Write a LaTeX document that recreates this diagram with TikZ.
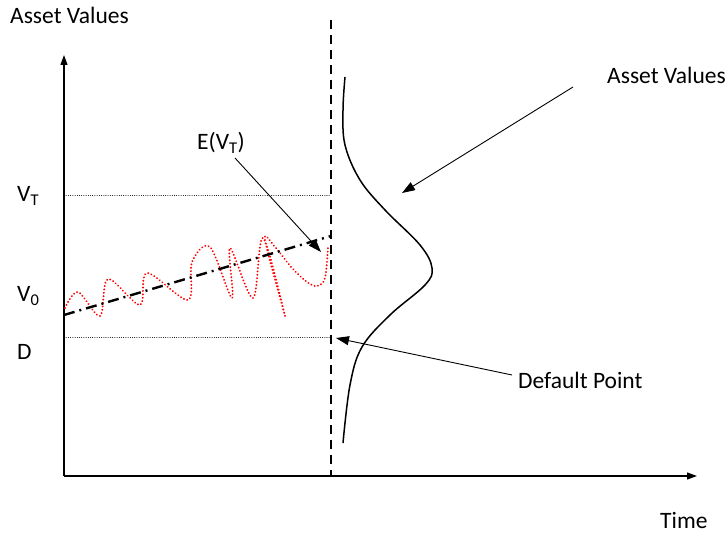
\documentclass[tikz,border=0pt]{standalone}
\usepackage{fontspec}
\setmainfont{Carlito}
\usetikzlibrary{arrows.meta}
\begin{document}
\begin{tikzpicture}[x=1pt,y=-1pt,
  lbl/.style={font=\fontsize{23.5}{26}\selectfont, inner sep=0pt},
  axis/.style={line width=1.2pt, -{Triangle[length=10pt,width=7pt]}},
  pointer/.style={line width=0.9pt, -{Triangle[length=13pt,width=9pt]}},
  guide/.style={line width=1pt, dash pattern=on 0.01pt off 2.2pt, line cap=round},
  wave/.style={red, line width=2.1pt, dash pattern=on 0.01pt off 3.4pt, line cap=round}]
\useasboundingbox (0,0) rectangle (728,534);
% axes
\coordinate (O) at (64,476);
\coordinate (ytop) at (64,55);
\coordinate (xend) at (697,476);
\draw[axis] (O) -- (ytop);
\draw[axis] (O) -- (xend);
% dashed vertical line
\coordinate (dtop) at (331,20);
\coordinate (dbot) at (331,476);
\draw[line width=2.6pt, dash pattern=on 9pt off 6pt] (dtop) -- (dbot);
% guide lines
\coordinate (vt0) at (64,196); \coordinate (vt1) at (331,196);
\coordinate (d0) at (64,338); \coordinate (d1) at (331,338);
\draw[guide] (vt0) -- (vt1);
\draw[guide] (d0) -- (d1);
% red wave
\draw[wave] plot[smooth, tension=0.55] coordinates {
 (65,308) (78,292) (100,316) (108,279) (140,305) (147,273) (188,300) (192,262)
 (210,247) (232,298) (230,248) (253,298) (263,238) (285,316) (265,240)
 (275,247) (292,268) (307,282) (317,286) (325,278) (328,247)};
% dash-dot expected value line
\coordinate (e0) at (64,315); \coordinate (e1) at (331,236);
\draw[line width=2.4pt, dash pattern=on 11pt off 5pt on 2pt off 5pt] (e0) -- (e1);
% distribution curve
\draw[line width=1.5pt] plot[smooth, tension=0.6] coordinates {
 (345,77) (343,110) (345,145) (360,180) (385,210) (420,245) (432,268)
 (425,285) (390,315) (362,347) (350,385) (343,443)};
% labels
\node[lbl, anchor=west] (av) at (10,15) {Asset Values};
\node[lbl, anchor=west] (time) at (660,520) {Time};
\node[lbl, anchor=west] (vt) at (17,196) {V\textsubscript{T}};
\node[lbl, anchor=west] (v0) at (17,296) {V\textsubscript{0}};
\node[lbl, anchor=west] (dl) at (17,352) {D};
\node[lbl, anchor=west] (av2) at (607,75) {Asset Values};
\node[lbl, anchor=west] (dp) at (518,380) {Default Point};
\node[lbl, anchor=west] (ev) at (197,143) {E(V\textsubscript{T})};
% pointer arrows
\coordinate (avs) at (573,87); \coordinate (avt) at (402,193);
\coordinate (dps) at (512,375); \coordinate (dpt) at (336,338);
\coordinate (evs) at (235,158); \coordinate (evt) at (321,252);
\draw[pointer] (avs) -- (avt);
\draw[pointer] (dps) -- (dpt);
\draw[pointer] (evs) -- (evt);
\end{tikzpicture}
\end{document}
